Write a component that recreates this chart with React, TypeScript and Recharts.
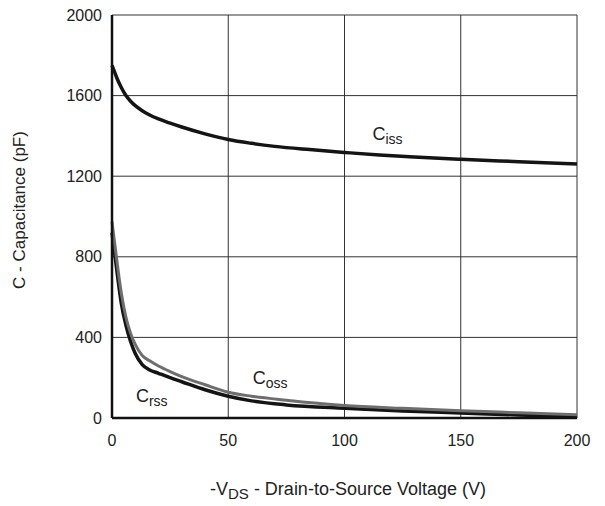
import { LineChart, Line, XAxis, YAxis, CartesianGrid, ReferenceDot } from "recharts";

// -VDS (V) vs capacitance (pF)
const cissV = [0, 1, 2, 4, 6, 8, 10, 13, 16, 20, 25, 30, 40, 50, 60, 70, 85, 100, 115, 130, 150, 175, 200];
const cissC = [1750, 1720, 1690, 1640, 1600, 1572, 1550, 1525, 1505, 1484, 1463, 1444, 1410, 1382, 1363, 1348, 1332, 1318, 1305, 1295, 1284, 1272, 1260];

const cossV = [0, 1, 2, 3, 4, 6, 8, 10, 13, 16, 20, 25, 30, 40, 50, 60, 75, 100, 125, 150, 175, 200];
const cossC = [975, 880, 790, 700, 620, 500, 420, 365, 310, 285, 258, 230, 205, 165, 128, 108, 88, 62, 48, 36, 26, 16];

const crssV = [0, 1, 2, 3, 4, 6, 8, 10, 13, 16, 20, 25, 30, 40, 50, 60, 75, 100, 125, 150, 175, 200];
const crssC = [920, 830, 740, 650, 570, 460, 380, 320, 265, 240, 222, 200, 180, 140, 108, 85, 65, 48, 35, 25, 15, 6];

const xTicks = [0, 50, 100, 150, 200];
const yTicks = [0, 400, 800, 1200, 1600, 2000];

const ciss = cissV.map((v, i) => ({ v, c: cissC[i] }));
const coss = cossV.map((v, i) => ({ v, c: cossC[i] }));
const crss = crssV.map((v, i) => ({ v, c: crssC[i] }));

const FONT = "Liberation Sans, Arial, sans-serif";

const CurveLabel = ({ viewBox, sub }: any) => {
  if (!viewBox) return null;
  return (
    <text x={viewBox.x} y={viewBox.y} fontFamily={FONT} fill="#222">
      <tspan fontSize={18}>C</tspan>
      <tspan fontSize={14} dy={4}>{sub}</tspan>
    </text>
  );
};

export default function App() {
  return (
    <div style={{ position: "absolute", left: 0, top: 0, background: "#fff" }}>
      <LineChart width={605} height={506} margin={{ top: 15, right: 28, left: 12, bottom: 28 }}>
        <CartesianGrid stroke="#333" strokeWidth={1} />
        <XAxis
          dataKey="v"
          type="number"
          domain={[0, 200]}
          ticks={xTicks}
          height={60}
          tickSize={0}
          tickMargin={17}
          tickLine={false}
          axisLine={{ stroke: "#111", strokeWidth: 2.5 }}
          tick={{ fill: "#222", fontSize: 16, fontFamily: FONT }}
          allowDuplicatedCategory={false}
        />
        <XAxis xAxisId="top" orientation="top" type="number" domain={[0, 200]} height={0} tick={false} tickLine={false} axisLine={{ stroke: "#111", strokeWidth: 2.5 }} />
        <YAxis
          type="number"
          domain={[0, 2000]}
          ticks={yTicks}
          width={100}
          tickSize={0}
          tickMargin={10}
          tickLine={false}
          axisLine={{ stroke: "#111", strokeWidth: 2.5 }}
          tick={{ fill: "#222", fontSize: 16, fontFamily: FONT }}
        />
        <YAxis yAxisId="right" orientation="right" domain={[0, 2000]} width={0} tick={false} tickLine={false} axisLine={{ stroke: "#111", strokeWidth: 2.5 }} />
        <Line data={ciss} dataKey="c" type="monotone" stroke="#141414" strokeWidth={3.5} dot={false} isAnimationActive={false} />
        <Line data={crss} dataKey="c" type="monotone" stroke="#141414" strokeWidth={3.5} dot={false} isAnimationActive={false} />
        <Line data={coss} dataKey="c" type="monotone" stroke="#6e6e6e" strokeWidth={3} dot={false} isAnimationActive={false} />
        <ReferenceDot x={112} y={1380} r={0} fill="none" stroke="none" label={<CurveLabel sub="iss" />} />
        <ReferenceDot x={60.5} y={168} r={0} fill="none" stroke="none" label={<CurveLabel sub="oss" />} />
        <ReferenceDot x={10.3} y={78} r={0} fill="none" stroke="none" label={<CurveLabel sub="rss" />} />
        <text x={348} y={495} textAnchor="middle" fontFamily={FONT} fontSize={18} fill="#222">
          <tspan>-V</tspan>
          <tspan fontSize={15} dy={4}>DS</tspan>
          <tspan dy={-4}> - Drain-to-Source Voltage (V)</tspan>
        </text>
        <text x={25} y={210} transform="rotate(-90 25 210)" textAnchor="middle" fontFamily={FONT} fontSize={17} fill="#222">
          C - Capacitance (pF)
        </text>
      </LineChart>
    </div>
  );
}
